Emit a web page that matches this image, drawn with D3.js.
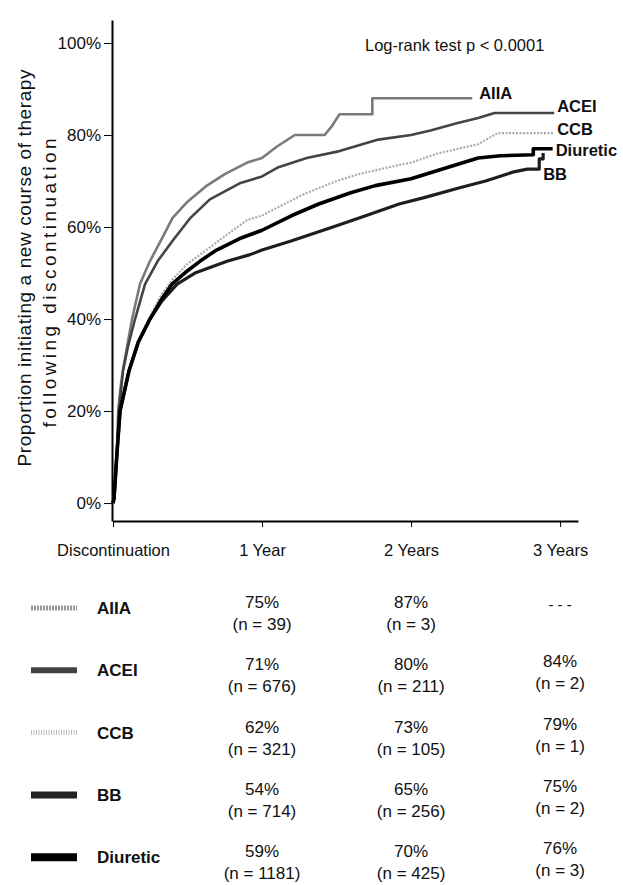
<!DOCTYPE html>
<html>
<head>
<meta charset="utf-8">
<script src="https://d3js.org/d3.v7.min.js"></script>
<style>
  body { margin: 0; background: #fff; }
  text { font-family: "Liberation Sans", Arial, sans-serif; fill: #111; }
</style>
</head>
<body>
<div id="chart"></div>
<script>
// curves: [years since discontinuation, % initiating new therapy]
var aiiaCurve = [[0,0],[0.007,1],[0.027,11],[0.034,20],[0.05,25],[0.067,29],[0.1,35],[0.128,40],[0.181,47.6],
  [0.248,52.6],[0.32,57],[0.4,62],[0.5,65.5],[0.63,69],[0.75,71.5],[0.9,74],[1.0,75],[1.1,77.5],[1.22,80],
  [1.42,80],[1.47,82],[1.52,84.5],[1.74,84.5],[1.74,88],[2.41,88]];
var aceiCurve = [[0,0],[0.007,1],[0.027,11],[0.04,20],[0.067,28.7],[0.1,34],[0.148,40],[0.215,47.6],[0.3,52.6],
  [0.4,57],[0.52,62],[0.65,66],[0.85,69.5],[1.0,71],[1.11,73],[1.3,75],[1.52,76.5],[1.78,79],[2.0,80],
  [2.13,81],[2.3,82.5],[2.45,83.7],[2.56,84.8],[2.96,84.8]];
var ccbCurve = [[0,0],[0.007,1],[0.027,11],[0.047,20],[0.107,28.7],[0.17,35],[0.248,40.5],[0.32,45],[0.396,48.5],
  [0.5,52],[0.585,54],[0.77,58.5],[0.9,61.5],[1.0,62.5],[1.27,67],[1.5,70],[1.65,71.5],[1.92,73.5],[2.0,74],
  [2.18,76],[2.45,78],[2.58,80.4],[2.96,80.4]];
var diureticCurve = [[0,0],[0.007,1],[0.027,11],[0.047,20],[0.107,28.7],[0.17,35],[0.248,40],[0.32,44],[0.396,47.6],
  [0.5,50.5],[0.585,52.6],[0.685,54.8],[0.85,57.5],[1.0,59.3],[1.2,62.5],[1.38,65],[1.6,67.5],[1.76,69],
  [2.0,70.5],[2.2,72.5],[2.45,75],[2.6,75.5],[2.82,75.7],[2.82,77],[2.95,77]];
var bbCurve = [[0,0],[0.007,1],[0.027,11],[0.047,20],[0.107,28.7],[0.17,35],[0.248,40],[0.33,44],[0.43,47.6],
  [0.55,50],[0.77,52.6],[0.92,54],[1.0,55],[1.2,57],[1.52,60.5],[1.7,62.5],[1.92,65],[2.1,66.5],[2.32,68.5],
  [2.5,70],[2.69,72],[2.78,72.6],[2.86,72.6],[2.86,74.8],[2.886,74.8],[2.886,76.1]];

var groups = ["AIIA", "ACEI", "CCB", "BB", "Diuretic"];
var pctYear1 = [75, 71, 62, 54, 59];
var nYear1 = [39, 676, 321, 714, 1181];
var pctYear2 = [87, 80, 73, 65, 70];
var nYear2 = [3, 211, 105, 256, 425];
var pctYear3 = [null, 84, 79, 75, 76];
var nYear3 = [null, 2, 1, 2, 3];

var xTicks = [0, 1, 2, 3];
var xTickLabels = ["Discontinuation", "1 Year", "2 Years", "3 Years"];
var yTicks = [0, 20, 40, 60, 80, 100];

var svg = d3.select("#chart").append("svg")
  .attr("width", 623)
  .attr("height", 885);

var x = d3.scaleLinear().domain([0, 3.12]).range([113, 578]);
var y = d3.scaleLinear().domain([-3.9, 105]).range([521, 20]);

// axes
var yAxis = svg.append("g")
  .attr("transform", "translate(112,0)")
  .call(d3.axisLeft(y).tickValues(yTicks).tickFormat(function(d) { return d + "%"; })
    .tickSize(8).tickSizeOuter(0).tickPadding(3));
yAxis.select(".domain").attr("stroke-width", 2);
yAxis.selectAll("text").style("font-size", "17px").style("font-family", "'Liberation Sans', Arial, sans-serif");

var xAxis = svg.append("g")
  .attr("transform", "translate(0,521)")
  .call(d3.axisBottom(x).tickValues(xTicks).tickFormat(function(d, i) { return xTickLabels[i]; })
    .tickSize(6).tickSizeOuter(0));
xAxis.select(".domain").attr("stroke-width", 2);
xAxis.selectAll("text").attr("y", 29).attr("dy", "0.35em")
  .style("font-size", "16.5px").style("font-family", "'Liberation Sans', Arial, sans-serif");

// y title
svg.append("text")
  .attr("transform", "translate(31,268) rotate(-90)")
  .attr("text-anchor", "middle")
  .attr("textLength", 397).attr("lengthAdjust", "spacing")
  .style("font-size", "19px")
  .text("Proportion initiating a new course of therapy");
svg.append("text")
  .attr("transform", "translate(56,283) rotate(-90)")
  .attr("text-anchor", "middle")
  .attr("textLength", 289).attr("lengthAdjust", "spacing")
  .style("font-size", "19px")
  .text("following discontinuation");

svg.append("text")
  .attr("x", 365).attr("y", 51)
  .style("font-size", "16.5px")
  .text("Log-rank test p < 0.0001");

// curves
var line = d3.line().x(function(d) { return x(d[0]); }).y(function(d) { return y(d[1]); });

var series = [
  {name: "CCB", data: ccbCurve, color: "#aaaaaa", width: 2.2, dash: "2,1.5", lx: 3, ly: -4},
  {name: "AIIA", data: aiiaCurve, color: "#7a7a7a", width: 2.6, dash: null, lx: 7, ly: -5},
  {name: "ACEI", data: aceiCurve, color: "#444444", width: 2.6, dash: null, lx: 3, ly: -7},
  {name: "BB", data: bbCurve, color: "#1e1e1e", width: 3.2, dash: null, lx: 0, ly: 21},
  {name: "Diuretic", data: diureticCurve, color: "#000000", width: 3.6, dash: null, lx: 3, ly: 1}
];

series.forEach(function(s) {
  svg.append("path")
    .datum(s.data)
    .attr("fill", "none")
    .attr("stroke", s.color)
    .attr("stroke-width", s.width)
    .attr("stroke-dasharray", s.dash)
    .attr("stroke-linejoin", "round")
    .attr("d", line);
  var last = s.data[s.data.length - 1];
  svg.append("text")
    .attr("x", x(last[0]) + s.lx)
    .attr("y", y(last[1]) + s.ly)
    .attr("dy", "0.35em")
    .style("font-size", "16.5px")
    .style("font-weight", "bold")
    .text(s.name);
});

// table below the chart
var swatch = {
  AIIA: {color: "#999999", width: 5, dash: "2,1"},
  ACEI: {color: "#444444", width: 6, dash: null},
  CCB: {color: "#bbbbbb", width: 5, dash: "1,1.5"},
  BB: {color: "#222222", width: 7, dash: null},
  Diuretic: {color: "#000000", width: 8, dash: null}
};

var rowTop = 602, rowStep = 62.3;
groups.forEach(function(g, i) {
  var ry = rowTop + i * rowStep;
  var sw = swatch[g];
  svg.append("line")
    .attr("x1", 31).attr("x2", 77)
    .attr("y1", ry + 6).attr("y2", ry + 6)
    .attr("stroke", sw.color).attr("stroke-width", sw.width)
    .attr("stroke-dasharray", sw.dash);
  svg.append("text")
    .attr("x", 97).attr("y", ry + 6).attr("dy", "0.35em")
    .style("font-size", "17px").style("font-weight", "bold")
    .text(g);

  var cols = [[pctYear1[i], nYear1[i], 0], [pctYear2[i], nYear2[i], 0], [pctYear3[i], nYear3[i], -3]];
  cols.forEach(function(c, j) {
    var cx = x(xTicks[j + 1]);
    if (c[0] === null) {
      svg.append("text")
        .attr("x", cx).attr("y", ry + 3).attr("dy", "0.35em")
        .attr("text-anchor", "middle")
        .style("font-size", "15px")
        .text("- - -");
      return;
    }
    svg.append("text")
      .attr("x", cx).attr("y", ry + c[2]).attr("dy", "0.35em")
      .attr("text-anchor", "middle")
      .style("font-size", "17px")
      .text(c[0] + "%");
    svg.append("text")
      .attr("x", cx).attr("y", ry + 22 + c[2]).attr("dy", "0.35em")
      .attr("text-anchor", "middle")
      .style("font-size", "17px")
      .text("(n = " + c[1] + ")");
  });
});
</script>
</body>
</html>
